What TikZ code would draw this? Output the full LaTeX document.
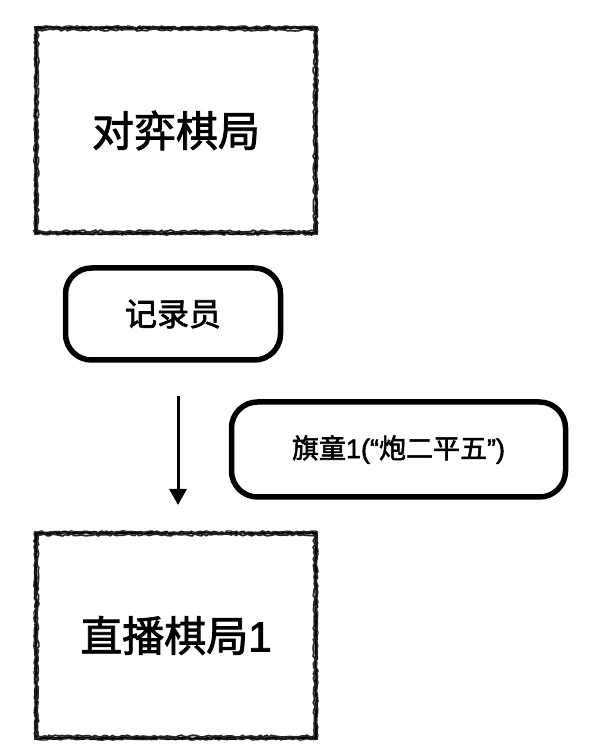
\documentclass[tikz,border=0pt]{standalone}
\usepackage{fontspec}
\newfontfamily\cjk{Noto Sans CJK SC}[FakeBold=2]
\newfontfamily\lat{Liberation Sans}[FakeBold=2]
\usetikzlibrary{decorations.pathmorphing,arrows.meta}
\tikzset{
  roughbox/.style={draw=none, minimum width=280pt, minimum height=205pt, inner sep=0pt},
  roughline/.style={draw=black, line width=2.8pt,
    decorate, decoration={random steps, segment length=2.5pt, amplitude=0.8pt}},
  roughline2/.style={draw=black!85, line width=1.8pt,
    decorate, decoration={random steps, segment length=3pt, amplitude=1.1pt}},
  pill/.style={draw=black, line width=5.5pt, rounded corners=26pt, inner sep=0pt},
  flow/.style={line width=3pt, -{Triangle[length=16pt,width=17pt]}}
}
\begin{document}
\begin{tikzpicture}[x=1pt,y=1pt]
\useasboundingbox (0,0) rectangle (592,754);
\fill[white] (0,0) rectangle (592,754);
% top box
\node[roughbox] (game) at (176,623.5) {\cjk\fontsize{42}{48}\selectfont 对弈棋局};
\draw[roughline] (game.north west) rectangle (game.south east);
\draw[roughline2] ([shift={(2,-2)}]game.north west) rectangle ([shift={(-2,2)}]game.south east);
\draw[roughline2, line width=1.2pt] ([shift={(-1,1)}]game.north west) rectangle ([shift={(1,-1)}]game.south east);
% recorder
\node[pill, minimum width=215pt, minimum height=92pt] (rec) at (173,440) {\cjk\fontsize{32}{38}\selectfont 记录员};
% flag
\node[pill, minimum width=334pt, minimum height=95pt] (flag) at (398.5,304.5)
  {\cjk\fontsize{27}{32}\selectfont 旗童{\lat 1(“}炮二平五{\lat ”)}};
% arrow
\coordinate (a1) at (178,358);
\coordinate (a2) at (178,249);
\draw[flow] (a1) -- (a2);
% bottom box
\node[roughbox] (live) at (176,118.5) {\cjk\fontsize{42}{48}\selectfont 直播棋局{\lat 1}};
\draw[roughline] (live.north west) rectangle (live.south east);
\draw[roughline2] ([shift={(2,-2)}]live.north west) rectangle ([shift={(-2,2)}]live.south east);
\draw[roughline2, line width=1.2pt] ([shift={(-1,1)}]live.north west) rectangle ([shift={(1,-1)}]live.south east);
\end{tikzpicture}
\end{document}
